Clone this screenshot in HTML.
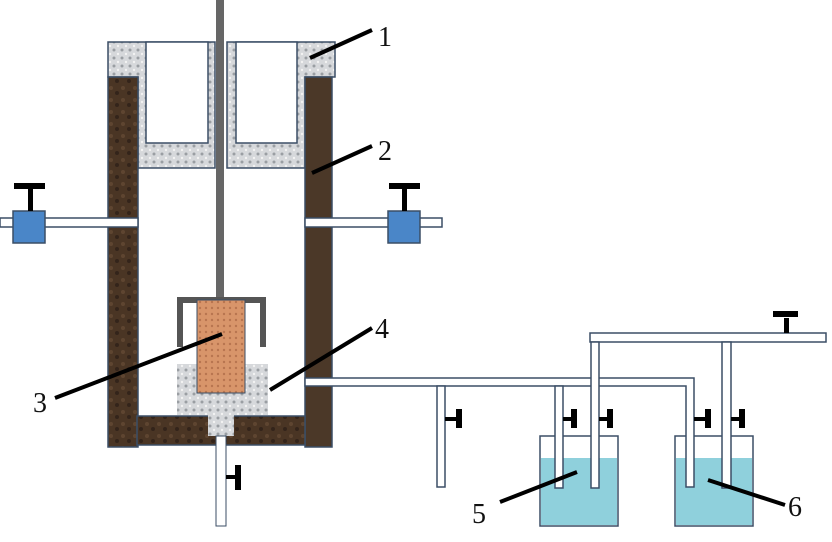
<!DOCTYPE html>
<html><head><meta charset="utf-8"><style>
html,body{margin:0;padding:0;background:#fff;width:832px;height:542px;overflow:hidden}
svg{display:block}
text{font-family:"Liberation Serif",serif;font-size:28px;fill:#111}
</style></head><body>
<svg width="832" height="542" viewBox="0 0 832 542" xmlns="http://www.w3.org/2000/svg">
<defs>
<pattern id="brown" width="12" height="12" patternUnits="userSpaceOnUse">
<rect width="12" height="12" fill="#4a3524"/><circle cx="3" cy="4" r="2" fill="#5e4530"/><circle cx="9" cy="9" r="2" fill="#33241a"/>
</pattern>
<pattern id="gray" width="8" height="8" patternUnits="userSpaceOnUse">
<rect width="8" height="8" fill="#d6d8db"/><circle cx="2" cy="2" r="1.5" fill="#9a9ea3"/><circle cx="6" cy="6" r="1.2" fill="#f2f2f2"/>
</pattern>
<pattern id="orange" width="6" height="6" patternUnits="userSpaceOnUse">
<rect width="6" height="6" fill="#d8956a"/><circle cx="2" cy="2" r="1.2" fill="#b87550"/>
</pattern>
</defs>
<g stroke="#3b4e66" stroke-width="1.5">
<!-- left side gray & cup -->
<path d="M108 42 H215 V168 H138 V77 H108 Z" fill="url(#gray)"/>
<rect x="146" y="42" width="62" height="101" fill="#fff"/>
<path d="M227 42 H335 V77 H305 V168 H227 Z" fill="url(#gray)"/>
<rect x="236" y="42" width="61" height="101" fill="#fff"/>
<!-- walls -->
<rect x="108" y="77" width="30" height="370" fill="url(#brown)"/>
<rect x="305" y="77" width="27" height="370" fill="#4b3828"/>
<rect x="137" y="416" width="168" height="29" fill="url(#brown)"/>
<!-- side tubes -->
<rect x="0" y="218" width="138" height="9" fill="#fff"/>
<rect x="305" y="218" width="137" height="9" fill="#fff"/>
<rect x="13" y="211" width="32" height="32" fill="#4a86c8"/>
<rect x="388" y="211" width="32" height="32" fill="#4a86c8"/>
</g>
<g fill="#000">
<rect x="28" y="188" width="5" height="23"/><rect x="14" y="183" width="31" height="6"/>
<rect x="402" y="188" width="5" height="23"/><rect x="389" y="183" width="31" height="6"/>
</g>
<!-- rod -->
<rect x="216" y="0" width="8" height="300" fill="#666"/>
<path d="M180 347 V300 H263 V347" fill="none" stroke="#555" stroke-width="6"/>
<!-- gray block -->
<g stroke="#3b4e66" stroke-width="1">
<path d="M177 364 H268 V415 H234 V436 H208 V415 H177 Z" fill="url(#gray)" stroke="none"/>
<rect x="197" y="300" width="48" height="93" fill="url(#orange)"/>
<rect x="216" y="436" width="10" height="90" fill="#fff"/>
</g>
<rect x="226" y="475" width="9" height="4" fill="#000"/><rect x="235" y="465" width="6" height="25" fill="#000"/>
<!-- right piping -->
<g stroke="#3b4e66" stroke-width="1.5" fill="#fff">
<rect x="540" y="436" width="78" height="90"/>
<rect x="675" y="436" width="78" height="90"/>
</g>
<rect x="541" y="458" width="76" height="67" fill="#8fd0dc"/>
<rect x="676" y="458" width="76" height="67" fill="#8fd0dc"/>
<g stroke="#3b4e66" stroke-width="1.5" fill="#fff">
<path d="M305 378 H694 V487 H686 V386 H305 Z"/>
<rect x="437" y="386" width="8" height="101"/>
<rect x="555" y="386" width="8" height="102"/>
<rect x="590" y="333" width="236" height="9"/>
<rect x="591" y="342" width="8" height="146"/>
<rect x="722" y="342" width="9" height="146"/>
</g>
<g fill="#000">
<rect x="445" y="417" width="12" height="4"/><rect x="456" y="409" width="6" height="19"/>
<rect x="563" y="417" width="10" height="4"/><rect x="571" y="409" width="6" height="19"/>
<rect x="599" y="417" width="10" height="4"/><rect x="607" y="409" width="6" height="19"/>
<rect x="694" y="417" width="12" height="4"/><rect x="705" y="409" width="6" height="19"/>
<rect x="731" y="417" width="10" height="4"/><rect x="739" y="409" width="6" height="19"/>
<rect x="784" y="318" width="5" height="15"/><rect x="773" y="311" width="25" height="6"/>
</g>
<!-- leaders -->
<g stroke="#000" stroke-width="4">
<line x1="310" y1="58" x2="372" y2="30"/>
<line x1="312" y1="173" x2="372" y2="146"/>
<line x1="55" y1="398" x2="222" y2="334"/>
<line x1="270" y1="390" x2="372" y2="328"/>
<line x1="500" y1="502" x2="577" y2="472"/>
<line x1="708" y1="480" x2="785" y2="505"/>
</g>
<text x="378" y="46">1</text>
<text x="378" y="160">2</text>
<text x="33" y="412">3</text>
<text x="375" y="338">4</text>
<text x="472" y="523">5</text>
<text x="788" y="516">6</text>
</svg>
</body></html>
